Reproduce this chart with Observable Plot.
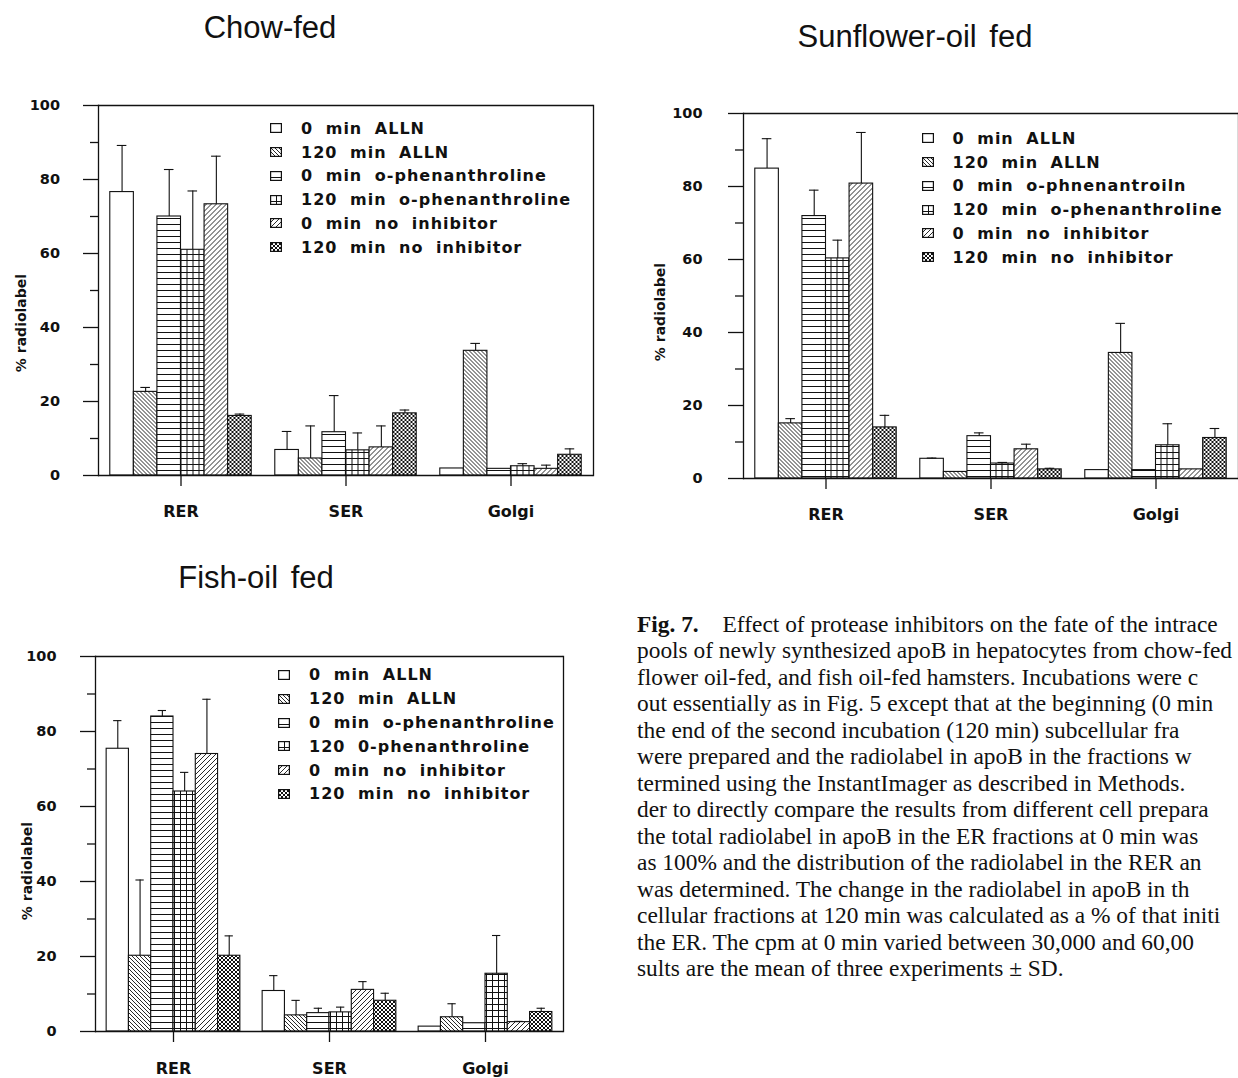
<!DOCTYPE html>
<html>
<head>
<meta charset="utf-8">
<script src="https://cdn.jsdelivr.net/npm/d3@7"></script>
<script src="https://cdn.jsdelivr.net/npm/@observablehq/plot@0.6"></script>
<style>
  html, body { margin: 0; padding: 0; background: #fff; }
  #page { position: relative; width: 1238px; height: 1078px; overflow: hidden; background: #fff; color: #111; }
  .chart { position: absolute; }
  .chart svg { overflow: visible; }
  .title { position: absolute; transform: translate(-50%, -50%); font-family: "Liberation Sans", Arial, sans-serif; font-size: 31px; white-space: nowrap; word-spacing: 4px; color: #111; }
  .ylab { position: absolute; transform: translate(-50%, -50%) rotate(-90deg); font-family: "DejaVu Sans", sans-serif; font-weight: bold; font-size: 14px; white-space: nowrap; color: #111; }
  .legend { position: absolute; font-family: "DejaVu Sans", sans-serif; font-weight: bold; font-size: 16px; letter-spacing: 1px; word-spacing: 6px; color: #111; }
  .legend .row { display: flex; align-items: center; height: 23.8px; white-space: nowrap; }
  .legend .row svg { flex: none; }
  .caption { position: absolute; left: 637px; top: 610.5px; font-family: "Liberation Serif", "Times New Roman", serif; font-size: 23.4px; line-height: 26.5px; color: #111; white-space: nowrap; }
  .caption b { margin-right: 18px; }
</style>
</head>
<body>
<div id="page">
<svg width="0" height="0" style="position:absolute">
  <defs>
    <pattern id="pat0" patternUnits="userSpaceOnUse" width="4" height="4"><rect width="4" height="4" fill="#fff"/></pattern>
    <pattern id="pat1" patternUnits="userSpaceOnUse" width="4" height="4"><rect width="4" height="4" fill="#fff"/><path d="M-1,-1L5,5M-1,3L1,5M3,-1L5,1" stroke="#111" stroke-width="0.9"/></pattern>
    <pattern id="pat2" patternUnits="userSpaceOnUse" width="6" height="6"><rect width="6" height="6" fill="#fff"/><path d="M0,0.5H6" stroke="#111" stroke-width="1"/></pattern>
    <pattern id="pat3" patternUnits="userSpaceOnUse" width="6" height="6"><rect width="6" height="6" fill="#fff"/><path d="M0,0.5H6M0.5,0V6" stroke="#111" stroke-width="1"/></pattern>
    <pattern id="pat4" patternUnits="userSpaceOnUse" width="5" height="5"><rect width="5" height="5" fill="#fff"/><path d="M-1,6L6,-1M-1,1L1,-1M4,6L6,4" stroke="#111" stroke-width="0.9"/></pattern>
    <pattern id="pat5" patternUnits="userSpaceOnUse" width="4" height="4"><rect width="4" height="4" fill="#fff"/><path d="M-1,-1L5,5M-1,3L1,5M3,-1L5,1M-1,5L5,-1M-1,1L1,-1M3,5L5,3" stroke="#111" stroke-width="1"/></pattern>
  </defs>
</svg>
</div>
<script>
// ---------------- data ----------------
const categories = ["RER", "SER", "Golgi"];
const series = ["0 min ALLN", "120 min ALLN", "0 min o-phenanthroline", "120 min o-phenanthroline", "0 min no inhibitor", "120 min no inhibitor"];

// legend labels as printed in each panel
const chowLegend = ["0 min ALLN", "120 min ALLN", "0 min o-phenanthroline", "120 min o-phenanthroline", "0 min no inhibitor", "120 min no inhibitor"];
const sunLegend = ["0 min ALLN", "120 min ALLN", "0 min o-phnenantroiln", "120 min o-phenanthroline", "0 min no inhibitor", "120 min no inhibitor"];
const fishLegend = ["0 min ALLN", "120 min ALLN", "0 min o-phenanthroline", "120 0-phenanthroline", "0 min no inhibitor", "120 min no inhibitor"];

// values per series: [RER, SER, Golgi]
const chowMean = [[76.6, 6.9, 1.9], [22.6, 4.6, 33.7], [70.0, 11.7, 1.8], [61.0, 6.8, 2.5], [73.3, 7.6, 1.8], [16.1, 16.8, 5.6]];
const chowSD   = [[12.6, 5.0, 0],   [1.2, 8.8, 2.0],   [12.7, 9.9, 0],   [15.9, 4.7, 0.7], [13.0, 5.8, 1.0], [0.5, 0.9, 1.6]];
const sunMean  = [[84.9, 5.4, 2.3], [15.1, 1.8, 34.4], [71.9, 11.6, 2.3], [60.3, 4.1, 9.1], [80.8, 8.0, 2.5], [14.0, 2.5, 11.1]];
const sunSD    = [[8.2, 0.2, 0],    [1.3, 0, 8.1],     [7.1, 0.9, 0],     [5.0, 0.3, 5.9], [14.0, 1.4, 0],  [3.3, 0.3, 2.6]];
const fishMean = [[75.4, 10.8, 1.3], [20.2, 4.3, 3.8], [84.0, 4.9, 2.2], [64.0, 5.1, 15.4], [74.0, 11.1, 2.5], [20.2, 8.2, 5.2]];
const fishSD   = [[7.5, 4.1, 0],     [20.2, 4.0, 3.6], [1.6, 1.3, 0],    [5.1, 1.4, 10.2],  [14.6, 2.2, 0.2],  [5.3, 2.0, 1.0]];

const majorTicks = [0, 20, 40, 60, 80, 100];
const minorTicks = [10, 30, 50, 70, 90];

// ---------------- drawing ----------------
const page = document.getElementById("page");
const ink = "#111";

function makeChart(mean, sd, opt) {
  const data = [];
  categories.forEach((c, ci) => series.forEach((s, si) =>
    data.push({cat: c, series: s, value: mean[si][ci], sd: sd[si][ci]})));
  const withErr = data.filter(d => d.sd > 0);
  const svg = Plot.plot({
    width: opt.width, height: opt.height,
    marginLeft: opt.ml, marginRight: opt.mr, marginTop: opt.mt, marginBottom: opt.mb,
    style: {background: "transparent", color: ink, fontFamily: "DejaVu Sans, sans-serif", overflow: "visible"},
    fx: {domain: categories, padding: 0, axis: null, label: null},
    x: {domain: series, paddingInner: 0, paddingOuter: 0.5, axis: null, round: false},
    y: {domain: [0, 100], axis: null},
    color: {type: "ordinal", domain: series, range: series.map((d, i) => `url(#pat${i})`)},
    marks: [
      Plot.barY(data, {fx: "cat", x: "series", y: "value", fill: "series", stroke: ink, strokeWidth: 1.1}),
      Plot.ruleX(withErr, {fx: "cat", x: "series", y1: "value", y2: d => d.value + d.sd, stroke: ink, strokeWidth: 1.1}),
      Plot.tickY(withErr, {fx: "cat", x: "series", y: d => d.value + d.sd, insetLeft: 7, insetRight: 7, stroke: ink, strokeWidth: 1.1}),
      Plot.ruleY([0, 100], {stroke: ink, strokeWidth: 1.3}),
      Plot.frame({anchor: "left", facetAnchor: "left", stroke: ink, strokeWidth: 1.3}),
      Plot.frame({anchor: "right", facetAnchor: "right", stroke: ink, strokeWidth: 1.3}),
      Plot.axisY({ticks: majorTicks, tickSize: 15, tickPadding: opt.tp, label: null, fontSize: 14.5, fontWeight: "bold", strokeWidth: 1.3}),
      Plot.axisY({ticks: minorTicks, tickSize: 8, tickFormat: () => "", label: null, strokeWidth: 1.3}),
      Plot.axisFx({anchor: "bottom", tickSize: 11, tickPadding: opt.fp, label: null, fontSize: 16, fontWeight: "bold", strokeWidth: 1.3})
    ]
  });
  const wrap = document.createElement("div");
  wrap.className = "chart";
  wrap.style.left = opt.left + "px";
  wrap.style.top = opt.top + "px";
  wrap.appendChild(svg);
  page.appendChild(wrap);
}

function addTitle(text, x, y) {
  const d = document.createElement("div");
  d.className = "title"; d.textContent = text;
  d.style.left = x + "px"; d.style.top = y + "px";
  page.appendChild(d);
}
function addYLabel(x, y) {
  const d = document.createElement("div");
  d.className = "ylab"; d.textContent = "% radiolabel";
  d.style.left = x + "px"; d.style.top = y + "px";
  page.appendChild(d);
}
function addLegend(labels, x, y) {
  const d = document.createElement("div");
  d.className = "legend";
  d.style.left = x + "px"; d.style.top = y + "px";
  labels.forEach((lab, i) => {
    const row = document.createElement("div");
    row.className = "row";
    row.innerHTML = `<svg width="12" height="10" style="margin-right:19px"><rect x="0.6" y="0.6" width="10.8" height="8.8" fill="url(#pat${i})" stroke="${ink}" stroke-width="1.2"/></svg><span>${lab}</span>`;
    d.appendChild(row);
  });
  page.appendChild(d);
}

// Chow-fed
makeChart(chowMean, chowSD, {left: 0, top: 80, width: 620, height: 460, ml: 97.5, mr: 27.5, mt: 25, mb: 65, tp: 23.5, fp: 19});
addTitle("Chow-fed", 270, 28);
addYLabel(21, 323);
addLegend(chowLegend, 270, 116.4);

// Sunflower-oil fed
makeChart(sunMean, sunSD, {left: 620, top: 80, width: 618, height: 460, ml: 122.5, mr: 0.5, mt: 33, mb: 62, tp: 26, fp: 19});
addTitle("Sunflower-oil fed", 915, 37);
addYLabel(660, 312);
addLegend(sunLegend, 921.5, 126.4);

// Fish-oil fed
makeChart(fishMean, fishSD, {left: 0, top: 620, width: 620, height: 458, ml: 95, mr: 57, mt: 36, mb: 47, tp: 24, fp: 20});
addTitle("Fish-oil fed", 256, 578);
addYLabel(27, 871);
addLegend(fishLegend, 278, 663.1);

// Caption
const captionLines = [
  "<b>Fig. 7.</b> Effect of protease inhibitors on the fate of the intrace",
  "pools of newly synthesized apoB in hepatocytes from chow-fed",
  "flower oil-fed, and fish oil-fed hamsters. Incubations were c",
  "out essentially as in Fig. 5 except that at the beginning (0 min",
  "the end of the second incubation (120 min) subcellular fra",
  "were prepared and the radiolabel in apoB in the fractions w",
  "termined using the InstantImager as described in Methods.",
  "der to directly compare the results from different cell prepara",
  "the total radiolabel in apoB in the ER fractions at 0 min was",
  "as 100% and the distribution of the radiolabel in the RER an",
  "was determined. The change in the radiolabel in apoB in th",
  "cellular fractions at 120 min was calculated as a % of that initi",
  "the ER. The cpm at 0 min varied between 30,000 and 60,00",
  "sults are the mean of three experiments \u00b1 SD."
];
const cap = document.createElement("div");
cap.className = "caption";
cap.innerHTML = captionLines.map(l => `<div>${l}</div>`).join("");
page.appendChild(cap);
</script>
</body>
</html>
